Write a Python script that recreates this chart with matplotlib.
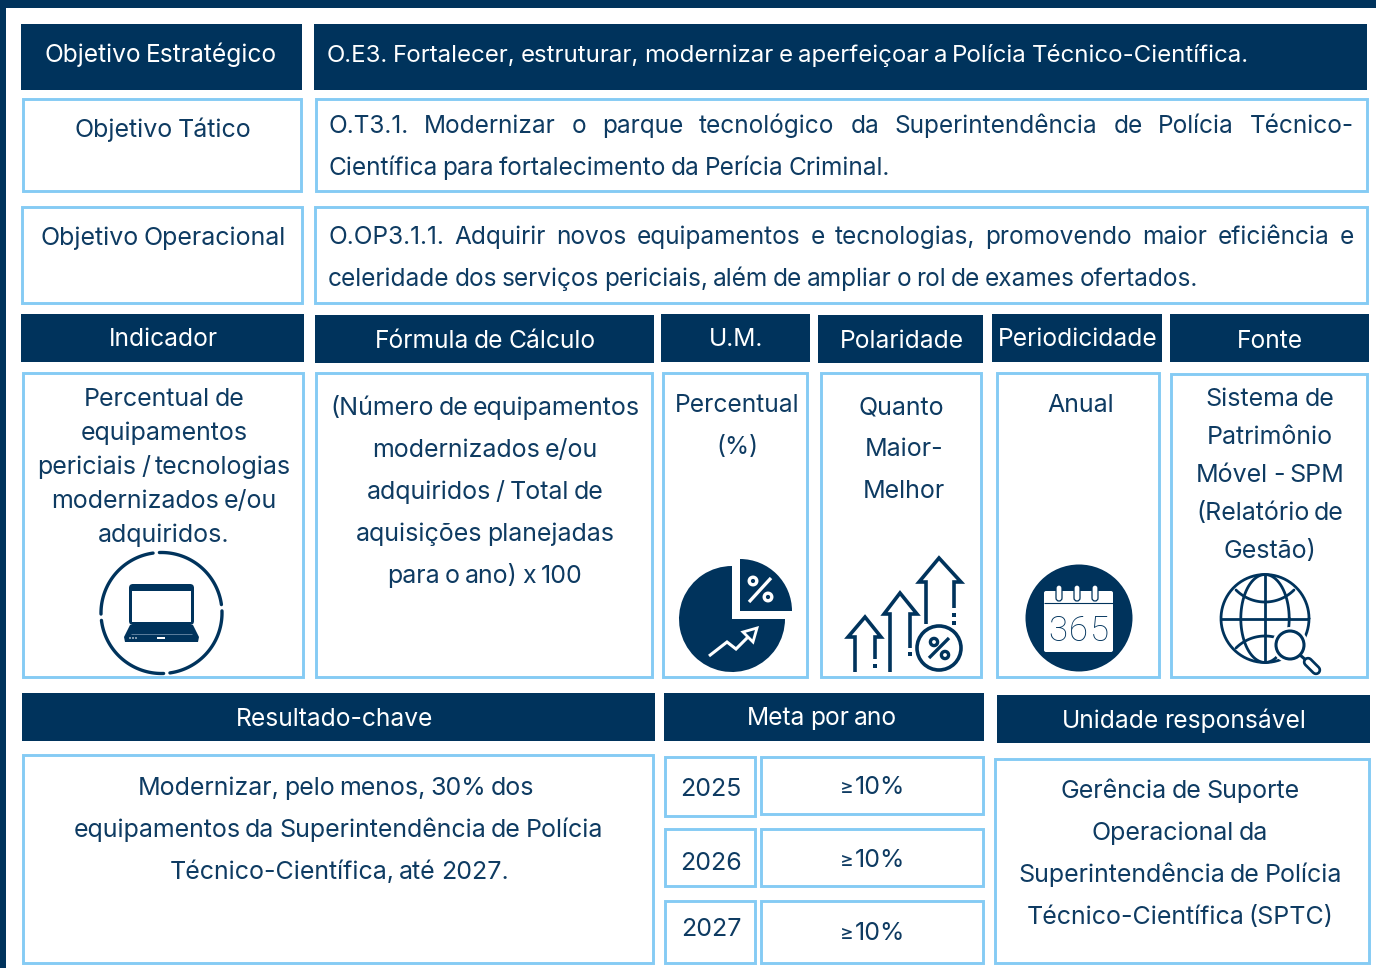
"""Painel do objetivo O.E3 (tabela com ícones) -> out.png"""

import numpy as np
import matplotlib

matplotlib.use("Agg")
import matplotlib.pyplot as plt  # noqa: E402
from matplotlib.patches import Circle, FancyBboxPatch, Polygon, Rectangle, Wedge  # noqa: E402

DARK = "#00335C"
LIGHT = "#85CBF4"
INK = "#0E3B62"
FONT = "Inter"
SIZE = 18.0  # pt
SIZE_LINE = 17.6  # linhas longas do topo

# textos
header_labels = ["Objetivo Estratégico", "Indicador", "Fórmula de Cálculo", "U.M.", "Polaridade",
                 "Periodicidade", "Fonte", "Resultado-chave", "Meta por ano", "Unidade responsável"]
left_labels = ["Objetivo Tático", "Objetivo Operacional"]
strategic_text = "O.E3. Fortalecer, estruturar, modernizar e aperfeiçoar a Polícia Técnico-Científica."
tactical_lines = ["O.T3.1. Modernizar o parque tecnológico da Superintendência de Polícia Técnico-",
                  "Científica para fortalecimento da Perícia Criminal."]
operational_lines = ["O.OP3.1.1. Adquirir novos equipamentos e tecnologias, promovendo maior eficiência e",
                     "celeridade dos serviços periciais, além de ampliar o rol de exames ofertados."]
indicator_lines = ["Percentual de", "equipamentos", "periciais / tecnologias", "modernizados e/ou", "adquiridos."]
formula_lines = ["(Número de equipamentos", "modernizados e/ou", "adquiridos / Total de",
                 "aquisições planejadas", "para o ano) x 100"]
unit_lines = ["Percentual", "(%)"]
polarity_lines = ["Quanto", "Maior-", "Melhor"]
period_lines = ["Anual"]
source_lines = ["Sistema de", "Patrimônio", "Móvel - SPM", "(Relatório de", "Gestão)"]
result_lines = ["Modernizar, pelo menos, 30% dos", "equipamentos da Superintendência de Polícia",
                "Técnico-Científica, até 2027."]
years = ["2025", "2026", "2027"]
targets = ["10%", "10%", "10%"]
unit_resp_lines = ["Gerência de Suporte", "Operacional da", "Superintendência de Polícia",
                   "Técnico-Científica (SPTC)"]

fig = plt.figure(figsize=(13.76, 9.68), dpi=100, facecolor="white")
ax = fig.add_axes([0, 0, 1, 1])
ax.set_xlim(0, 1376)
ax.set_ylim(968, 0)
ax.axis("off")
renderer = fig.canvas.get_renderer()


def word(x, y, s, color=INK, ha="center", size=SIZE, **kw):
    kw.setdefault("family", FONT)
    return ax.text(x, y, s, color=color, ha=ha, va="baseline", fontsize=size, **kw)


def width(a):
    return a.get_window_extent(renderer).width


def place(arts, x, gap):
    for a in arts:
        a.set_x(x)
        x += width(a) + gap


def put(x, y, s, color=INK, size=SIZE):
    # as palavras vão uma a uma: o espaço da referência é mais estreito que o da Inter
    arts = [word(x, y, w, color=color, ha="left", size=size) for w in s.split(" ")]
    gap = 4.8
    total = sum(width(a) for a in arts) + gap * (len(arts) - 1)
    place(arts, x - total / 2, gap)


def block(x, y0, step, lines, size=SIZE):
    for i, s in enumerate(lines):
        xi = x[i] if isinstance(x, (list, tuple)) else x
        put(xi, y0 + i * step, s, size=size)


def justified(x0, x1, y, s, color=INK, size=SIZE_LINE):
    arts = [word(x0, y, w, color=color, ha="left", size=size) for w in s.split(" ")]
    gap = (x1 - x0 - sum(width(a) for a in arts)) / (len(arts) - 1)
    place(arts, x0, gap)


def filled(x0, y0, x1, y1):
    ax.add_patch(Rectangle((x0, y0), x1 - x0, y1 - y0, fc=DARK, ec="none"))


def outlined(x0, y0, x1, y1):
    ax.add_patch(Rectangle((x0, y0), x1 - x0 - 1, y1 - y0 - 1, fc="white", ec=LIGHT, lw=2.1))


def stroke(pts, color=DARK, lw=2.6, cap="butt", z=3):
    xs, ys = zip(*pts)
    ax.plot(xs, ys, color=color, lw=lw, solid_capstyle=cap, solid_joinstyle="miter", zorder=z)


def arc(cx, cy, r, a0, a1, color=DARK, lw=2.4, ry=None, cap="round", z=3):
    t = np.radians(np.linspace(a0, a1, 80))
    ax.plot(cx + r * np.cos(t), cy + (ry if ry is not None else r) * np.sin(t), color=color, lw=lw,
            solid_capstyle=cap, zorder=z)


def percent(x0, y0, x1, y1, a, b, color, r=3.4, lw=2.2):
    stroke([(x0, y0), (x1, y1)], color=color, lw=lw, z=5)
    for p in (a, b):
        ax.add_patch(Circle(p, r, fc="none", ec=color, lw=lw, zorder=5))


# moldura escura
ax.add_patch(Rectangle((0, 0), 1376, 8, fc=DARK, ec="none"))
ax.add_patch(Rectangle((0, 0), 6, 968, fc=DARK, ec="none"))

for b in [(21, 24, 302, 90), (314, 24, 1367, 90), (21, 314, 304, 362), (315, 315, 654, 363), (661, 314, 810, 362),
          (818, 315, 983, 363), (992, 314, 1162, 362), (1170, 314, 1369, 362), (22, 693, 655, 741),
          (664, 693, 984, 741), (997, 695, 1370, 743)]:
    filled(*b)
for b in [(23, 99, 302, 192), (316, 99, 1368, 192), (22, 207, 303, 304), (315, 207, 1368, 304), (23, 373, 304, 678),
          (316, 373, 653, 678), (663, 373, 808, 678), (821, 373, 982, 678), (997, 373, 1160, 678),
          (1171, 374, 1368, 678), (23, 755, 654, 964), (665, 757, 756, 817), (761, 757, 984, 815),
          (665, 829, 756, 887), (761, 829, 984, 887), (665, 901, 756, 964), (761, 901, 984, 964),
          (995, 759, 1370, 964)]:
    outlined(*b)

# cabeçalhos
header_pos = [(161, 62), (163, 346), (485, 348), (736, 346), (902, 348), (1078, 346), (1270, 348), (335, 726),
              (822, 725), (1184, 728)]
for (x, y), s in zip(header_pos, header_labels):
    put(x, y, s, color="white", size=17.7)
justified(327, 1249, 62, strategic_text, color="white", size=17.3)

put(163, 137, left_labels[0])
put(163, 245, left_labels[1])

justified(328, 1354, 133, tactical_lines[0])
justified(328, 890, 175, tactical_lines[1])
justified(328, 1354, 244, operational_lines[0])
justified(328, 1198, 286, operational_lines[1])

block(164, 406, 34, indicator_lines)
block(485, 415, 42, formula_lines)
block(737, 412, 42, unit_lines, size=17.7)
put(901, 414, polarity_lines[0])
block(904, 456, 42, polarity_lines[1:])
block(1081, 412, 42, period_lines)
block(1270, 406, 38, source_lines)
block([336, 338, 339], 795, 42, result_lines)
block(1180, 798, 42, unit_resp_lines)

for s, y in zip(years, [796, 870, 936]):
    put(711, y, s)
for s, y in zip(targets, [794, 867, 940]):
    put(880, y, s)
    word(847, y, "≥", size=15)

# --- ícone notebook
for a0, a1 in [(268, 352), (358, 442), (448, 533), (539, 622)]:
    arc(161.5, 613, 60.5, a0, a1, lw=2.4)
ax.add_patch(FancyBboxPatch((129, 584), 65, 41, boxstyle="round,pad=0,rounding_size=4", fc=DARK, ec="none"))
ax.add_patch(Rectangle((132, 591), 59, 31, fc="white", ec="none", zorder=3))
ax.add_patch(Polygon([(130, 625), (193, 625), (199, 637), (198, 642), (125, 642), (124, 637)], fc=DARK, ec="none"))
stroke([(131, 634), (192, 634)], color="#5C7F9E", lw=0.7)
ax.add_patch(Rectangle((157, 637), 8, 2, fc="white", ec="none", zorder=3))
for x in (130, 133, 136):
    ax.add_patch(Circle((x, 638), 0.8, fc="white", ec="none", zorder=3))

# --- ícone pizza
ax.add_patch(Wedge((732, 619), 53, 0, 270, fc=DARK, ec="none"))
ax.add_patch(Wedge((740, 611), 52, 270, 360, fc=DARK, ec="none"))
percent(749, 602, 771, 578, (753, 581), (768, 597), "white", r=3.8, lw=2.4)
stroke([(709, 656), (727, 642), (736, 649), (749, 636)], color="white", lw=2.2, z=5)
ax.add_patch(Polygon([(757, 628), (743, 632), (753, 642)], fc=DARK, ec="white", lw=2, zorder=5))

# --- ícone setas
for tip, wl, wr, xl, xr, yl, yr, dots in [
    ((865, 617), (848, 637), (881, 637), 855, 875, 672, 659, [666]),
    ((900, 593), (884, 614), (917, 614), 890, 910, 672, 648, [654]),
    ((939, 558), (919, 582), (961, 582), 926, 954, 624, 608, [615, 623]),
]:
    stroke([(xl, yl), (xl, wl[1]), wl, tip, wr, (xr, wr[1]), (xr, yr)], lw=2.6)
    for y in dots:
        ax.add_patch(Rectangle((xr - 2, y - 2), 4, 4, fc=DARK, ec="none"))
ax.add_patch(Circle((939, 648), 22, fc="white", ec=DARK, lw=2.6, zorder=4))
percent(929, 658, 949, 638, (934, 642), (945, 655), DARK, r=3.6, lw=2.4)

# --- ícone calendário
ax.add_patch(Circle((1079, 618), 53.5, fc=DARK, ec="none"))
ax.add_patch(FancyBboxPatch((1044, 591), 69, 61, boxstyle="round,pad=0,rounding_size=2", fc="white", ec="none", zorder=3))
stroke([(1044, 603), (1113, 603)], lw=0.8, z=4)
for x in (1059, 1077, 1095):
    ax.add_patch(FancyBboxPatch((x - 3, 585), 6, 16, boxstyle="round,pad=0,rounding_size=3", fc="white", ec=DARK,
                                lw=0.9, zorder=4))
for x, s in zip((1058, 1078, 1099), "365"):
    word(x, 641, s, color=DARK, size=25, family="Roboto", fontweight="light", zorder=5)

# --- ícone globo
gx, gy, gr = 1265, 618.5, 44
arc(gx, gy, gr, 0, 360, lw=2.0)
arc(gx, gy, gr * 0.55, 0, 360, ry=gr, lw=2.0)
stroke([(gx, gy - gr), (gx, gy + gr)], lw=2.0)
stroke([(gx - gr, gy), (gx + gr, gy)], lw=2.0)
arc(gx, 561, 41, 45, 135, lw=2.0)
arc(gx, 677, 41, 225, 315, lw=2.0)
ax.add_patch(Circle((1290, 645), 18, fc="white", ec="none", zorder=4))
ax.add_patch(Circle((1290, 645), 14, fc="white", ec=DARK, lw=2.2, zorder=5))
stroke([(1300, 655), (1307, 661)], lw=2.2, z=5)
ax.plot([1308, 1316], [662, 670], color=DARK, lw=7.5, solid_capstyle="round", zorder=5)
ax.plot([1308, 1316], [662, 670], color="white", lw=3.6, solid_capstyle="round", zorder=6)

fig.savefig("out.png", dpi=100)
